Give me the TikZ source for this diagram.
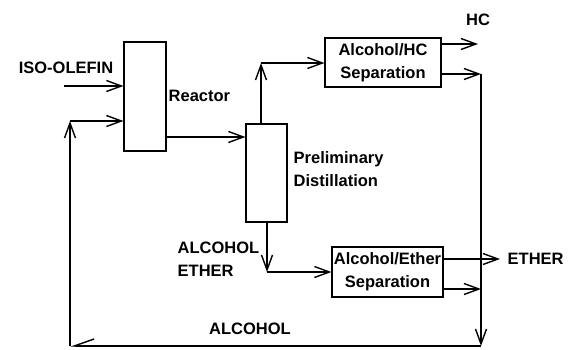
\documentclass[tikz,border=0pt]{standalone}
\usepackage{fontspec}
\setmainfont{Liberation Sans}
\usetikzlibrary{arrows.meta}
\begin{document}
\begin{tikzpicture}[x=1pt, y=-1pt, >={Straight Barb[length=15pt,width=11pt]}, line width=1.4pt,
  unit/.style={draw, line width=1.1pt, inner sep=0pt, align=center},
  lbl/.style={inner sep=0pt, align=left},
  font=\fontsize{16.5}{23}\selectfont\bfseries]
\useasboundingbox (0,0) rectangle (569,349);
\def\xl{70}
\def\xr{481}
\def\yb{346}
\node[unit, minimum width=42, minimum height=109] (reactor) at (145,96.5) {};
\node[unit, minimum width=41, minimum height=98]  (dist)    at (266.5,173) {};
\node[unit, minimum width=116, minimum height=49] (sepHC)   at (383,62.5) {Alcohol/HC\\Separation};
\node[unit, minimum width=111, minimum height=50] (sepE)    at (387.5,272) {Alcohol/Ether\\Separation};
\coordinate (feed)  at (64,86);
\coordinate (topL)  at (\xl,121);
\coordinate (botL)  at (\xl,\yb);
\coordinate (botR)  at (\xr,\yb);
\coordinate (hcR)   at (\xr,74);
\coordinate (joinE) at (\xr,289);
\coordinate (hcOut) at (478,44);
\coordinate (etOut) at (500,259);
\coordinate (dTop)  at (261,124);
\coordinate (dUp)   at (261,63);
\coordinate (dBot)  at (267,222);
\coordinate (dDown) at (267,272);
\draw[->] (feed) -- (feed -| reactor.west);
\draw[->] (reactor.east |- 0,137) -- (dist.west |- 0,137);
\draw[->] (dTop) -- (dUp);
\draw[->] (dUp) -- (dUp -| sepHC.west);
\draw[->] (sepHC.east |- hcOut) -- (hcOut);
\draw[->] (sepHC.east |- hcR) -- (hcR);
\draw[->] (hcR) -- (botR);
\draw[-{Straight Barb[right,length=20pt,width=14pt]}] (botR) -- (botL);
\draw[->] (botL) -- (topL);
\draw[->] (topL) -- (topL -| reactor.west);
\draw[->] (dBot) -- (dDown);
\draw[->] (dDown) -- (dDown -| sepE.west);
\draw[->] (sepE.east |- etOut) -- (etOut);
\draw[->] (sepE.east |- joinE) -- (joinE);
\node[lbl] (lFeed)  at (66,68) {ISO-OLEFIN};
\node[lbl, anchor=west] (lReac) at (168,96) {Reactor};
\node[lbl, anchor=west] (lDist) at (293,169.5) {Preliminary\\Distillation};
\node[lbl] (lHC)    at (478,20) {HC};
\node[lbl, anchor=west] (lMix)  at (177,259) {ALCOHOL\\ETHER};
\node[lbl, anchor=west] (lEth)  at (507,259) {ETHER};
\node[lbl] (lAlc)   at (250,329) {ALCOHOL};
\end{tikzpicture}
\end{document}
